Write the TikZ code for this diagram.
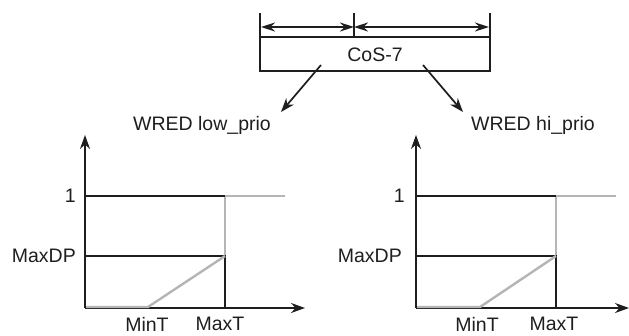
\documentclass[tikz,border=0pt]{standalone}
\usepackage{fontspec}
\setmainfont{Liberation Sans}
\usetikzlibrary{arrows.meta}
\definecolor{ink}{HTML}{1E1E1E}
\definecolor{lgray}{HTML}{B4B6B6}
\begin{document}
\begin{tikzpicture}[x=1pt,y=-1pt,
  txt/.style={font=\fontsize{19.5}{22}\selectfont, text=ink, inner sep=0pt},
  thick line/.style={draw=ink, line width=2.6pt},
  gray line/.style={draw=lgray, line width=2.4pt},
  axisarrow/.style={draw=ink, line width=1.9pt, -{Stealth[length=14pt,width=10pt]}},
  flowarrow/.style={draw=ink, line width=1.7pt, -{Stealth[length=14pt,width=10pt]}},
  dimarrow/.style={draw=ink, line width=1.6pt, {Stealth[length=14pt,width=9pt]}-{Stealth[length=14pt,width=9pt]}}]
\useasboundingbox (0,0) rectangle (629,335);
\fill[white] (0,0) rectangle (629,335);

% ---- top CoS-7 box ----
\coordinate (tl) at (260,13);
\coordinate (tr) at (490,13);
\coordinate (tm) at (354,13);
\coordinate (bl) at (260,71);
\coordinate (br) at (490,71);
\coordinate (ml) at (260,37);
\coordinate (mr) at (490,37);
\coordinate (mm) at (354,37);
\coordinate (al) at (261,27);
\coordinate (am) at (354,27);
\coordinate (ar) at (489,27);
\draw[thick line] (tl) -- (bl) -- (br) -- (tr);
\draw[draw=ink, line width=1.2pt] (ml) -- (mr);
\draw[draw=ink, line width=2pt] (tm) -- (mm);
\draw[dimarrow] (al) -- (am);
\draw[dimarrow] (am) -- (ar);
\node[txt] (cos) at (375,55) {CoS-7};

% ---- labels and arrows ----
\node[txt] (wlow) at (202,125) {WRED low\_prio};
\node[txt] (whi) at (533,125) {WRED hi\_prio};
\coordinate (s1) at (321,65);
\coordinate (e1) at (281,112);
\coordinate (s2) at (423,65);
\coordinate (e2) at (463,112);
\draw[flowarrow] (s1) -- (e1);
\draw[flowarrow] (s2) -- (e2);

% ---- left graph ----
\coordinate (LO) at (85,308);
\coordinate (LY) at (85,135);
\coordinate (LX) at (305,308);
\coordinate (L1a) at (85,196);
\coordinate (L1b) at (225,196);
\coordinate (L1c) at (285,196);
\coordinate (LMa) at (85,256);
\coordinate (LMb) at (225,256);
\coordinate (LMx) at (225,308);
\coordinate (LR) at (148,307);
\coordinate (LB) at (86,307);
\draw[gray line] (L1b) -- (L1c);
\draw[gray line] (L1b) -- (LMb);
\draw[thick line] (L1a) -- (L1b);
\draw[thick line] (LMa) -- (LMb) -- (LMx);
\draw[axisarrow] (LO) -- (LY);
\draw[axisarrow] (LO) -- (LX);
\draw[gray line] (LB) -- (LR) -- (LMb);
\node[txt, anchor=east] (L1) at (76,196) {1};
\node[txt, anchor=east] (LM) at (76,256) {MaxDP};
\node[txt] (Lmin) at (147,324) {MinT};
\node[txt] (Lmax) at (220,324) {MaxT};

% ---- right graph ----
\coordinate (RO) at (416,308);
\coordinate (RY) at (416,135);
\coordinate (RX) at (629,308);
\coordinate (R1a) at (416,196);
\coordinate (R1b) at (556,196);
\coordinate (R1c) at (616,196);
\coordinate (RMa) at (416,256);
\coordinate (RMb) at (556,256);
\coordinate (RMx) at (556,308);
\coordinate (RR) at (480,307);
\coordinate (RB) at (417,307);
\draw[gray line] (R1b) -- (R1c);
\draw[gray line] (R1b) -- (RMb);
\draw[thick line] (R1a) -- (R1b);
\draw[thick line] (RMa) -- (RMb) -- (RMx);
\draw[axisarrow] (RO) -- (RY);
\draw[axisarrow] (RO) -- (RX);
\draw[gray line] (RB) -- (RR) -- (RMb);
\node[txt, anchor=east] (R1) at (405,196) {1};
\node[txt, anchor=east] (RM) at (402,256) {MaxDP};
\node[txt] (Rmin) at (477,324) {MinT};
\node[txt] (Rmax) at (554,324) {MaxT};
\end{tikzpicture}
\end{document}
